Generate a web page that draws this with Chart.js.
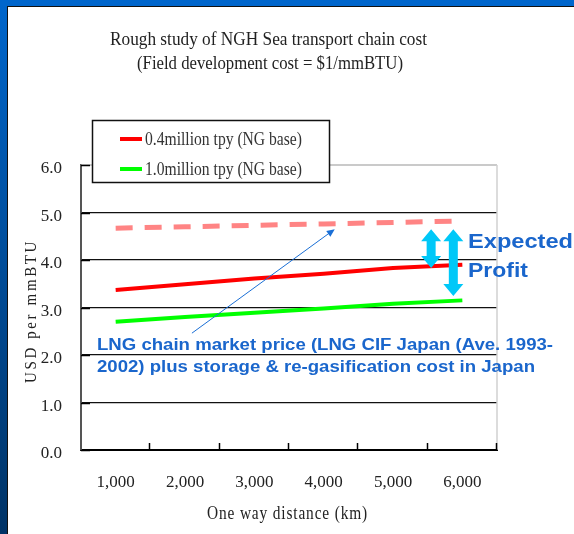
<!DOCTYPE html>
<html><head><meta charset="utf-8">
<script src="https://cdn.jsdelivr.net/npm/chart.js@4.4.1/dist/chart.umd.min.js"></script>
<style>html,body{margin:0;padding:0;background:#fff;overflow:hidden}canvas{display:block}</style>
</head><body>
<canvas id="c" width="574" height="534"></canvas>
<script>
// Transport chain cost vs one-way distance
const distances = ['1,000', '2,000', '3,000', '4,000', '5,000', '6,000'];
const cost04 = [3.37, 3.49, 3.61, 3.71, 3.83, 3.90];
const cost10 = [2.70, 2.80, 2.89, 2.98, 3.08, 3.15];
const lngMarket = [4.67, 4.70, 4.73, 4.76, 4.79, 4.82];
const yTicks = [0, 1, 2, 3, 4, 5, 6];
const seriesNames = ['0.4million tpy (NG base)', '1.0million tpy (NG base)', 'LNG chain market price'];
const titleLines = ['Rough study of NGH Sea transport chain cost', '(Field development cost = $1/mmBTU)'];
const xTitle = 'One way distance (km)';
const yTitle = 'USD per mmBTU';
const noteLines = ['LNG chain market price (LNG CIF Japan (Ave. 1993-', '2002) plus storage & re-gasification cost in Japan'];
const profitLines = ['Expected', 'Profit'];
// pointer from the note to the market price line, as [category index, value]
const pointer = { from: [1.10, 2.46], to: [3.16, 4.65] };
// double arrows spanning the profit margin
const profitArrows = [{ at: 4.55, top: 4.65, bottom: 3.83 }, { at: 4.87, top: 4.65, bottom: 3.24 }];

const SERIF = '"Liberation Serif", "DejaVu Serif", serif';
const SANS = '"Liberation Sans", Arial, sans-serif';

// draw text squeezed/stretched to a given width, left edge at x
function fitText(ctx, text, x, y, width, font, color, spacing) {
  ctx.save();
  ctx.font = font;
  ctx.fillStyle = color;
  ctx.textAlign = 'left';
  ctx.textBaseline = 'alphabetic';
  if (spacing) ctx.letterSpacing = spacing + 'px';
  const w = ctx.measureText(text).width;
  ctx.translate(x, y);
  ctx.scale(width / w, 1);
  ctx.fillText(text, 0, 0);
  ctx.restore();
}

const slideFrame = {
  id: 'slideFrame',
  beforeDraw(chart) {
    const ctx = chart.ctx, W = chart.width, H = chart.height;
    ctx.save();
    ctx.fillStyle = '#fff';
    ctx.fillRect(0, 0, W, H);
    const g = ctx.createLinearGradient(0, 0, 0, H);
    g.addColorStop(0, '#0066cc');
    g.addColorStop(1, '#003366');
    ctx.fillStyle = g;
    ctx.fillRect(0, 0, 7, H);
    ctx.fillStyle = '#0066cc';
    ctx.fillRect(0, 0, W, 6);
    ctx.fillStyle = '#111';
    ctx.fillRect(7, 6, 1, H - 6);
    ctx.fillRect(7, 6, W - 7, 1);
    ctx.restore();
  },
  beforeDatasetsDraw(chart) {
    const ctx = chart.ctx, a = chart.chartArea;
    const x = chart.scales.x, y = chart.scales.y;
    ctx.save();
    // plot frame: light top and right edges
    ctx.strokeStyle = '#b8b8b8';
    ctx.lineWidth = 1.5;
    ctx.beginPath();
    ctx.moveTo(a.left, a.top); ctx.lineTo(a.right, a.top);
    ctx.stroke();
    ctx.strokeStyle = '#d0d0d0';
    ctx.beginPath();
    ctx.moveTo(a.right, a.top); ctx.lineTo(a.right, a.bottom);
    ctx.stroke();
    // inner tick marks on both axes
    ctx.strokeStyle = '#000';
    ctx.lineWidth = 1.5;
    for (let i = 1; i <= distances.length; i++) {
      const px = Math.round(x.getPixelForValue(i - 0.5)) - 0.5;
      ctx.beginPath();
      ctx.moveTo(px, a.bottom); ctx.lineTo(px, a.bottom - 7);
      ctx.stroke();
    }
    yTicks.forEach(v => {
      const py = Math.round(y.getPixelForValue(v)) + 0.5;
      ctx.beginPath();
      ctx.moveTo(a.left, py); ctx.lineTo(a.left + 9, py);
      ctx.stroke();
    });
    ctx.restore();
  },
  afterDatasetsDraw(chart) {
    const ctx = chart.ctx;
    const x = chart.scales.x, y = chart.scales.y;
    const ds = chart.data.datasets;

    // titles
    fitText(ctx, titleLines[0], 110, 45, 317, '19px ' + SERIF, '#222');
    fitText(ctx, titleLines[1], 137, 69, 266, '19px ' + SERIF, '#222');
    fitText(ctx, xTitle, 207, 519, 161, '18px ' + SERIF, '#222', 1);
    ctx.save();
    ctx.translate(36, 311);
    ctx.rotate(-Math.PI / 2);
    fitText(ctx, yTitle, -72, 0, 144, '17px ' + SERIF, '#222', 3);
    ctx.restore();

    // legend box
    ctx.save();
    ctx.fillStyle = '#fff';
    ctx.fillRect(92, 120, 238, 63);
    ctx.strokeStyle = '#111';
    ctx.lineWidth = 1.5;
    ctx.strokeRect(92.5, 120.5, 237, 62);
    ctx.restore();
    const legendRows = ds.filter(d => d.legendRow !== undefined).sort((p, q) => p.legendRow - q.legendRow);
    legendRows.forEach((d, i) => {
      const ly = 139 + i * 30;
      ctx.save();
      ctx.strokeStyle = d.borderColor;
      ctx.lineWidth = 4;
      ctx.beginPath();
      ctx.moveTo(120, ly); ctx.lineTo(142, ly);
      ctx.stroke();
      ctx.restore();
      fitText(ctx, d.label, 145, ly + 6, 157, '18px ' + SERIF, '#333');
    });

    // pointer arrow to the market price line
    const x0 = x.getPixelForValue(pointer.from[0]), y0 = y.getPixelForValue(pointer.from[1]);
    const x1 = x.getPixelForValue(pointer.to[0]), y1 = y.getPixelForValue(pointer.to[1]);
    const ang = Math.atan2(y1 - y0, x1 - x0);
    ctx.save();
    ctx.strokeStyle = '#1a6fd6';
    ctx.fillStyle = '#1a6fd6';
    ctx.lineWidth = 1;
    ctx.beginPath();
    ctx.moveTo(x0, y0);
    ctx.lineTo(x1 - 6 * Math.cos(ang), y1 - 6 * Math.sin(ang));
    ctx.stroke();
    ctx.beginPath();
    ctx.moveTo(x1, y1);
    ctx.lineTo(x1 - 8 * Math.cos(ang) + 3.5 * Math.sin(ang), y1 - 8 * Math.sin(ang) - 3.5 * Math.cos(ang));
    ctx.lineTo(x1 - 8 * Math.cos(ang) - 3.5 * Math.sin(ang), y1 - 8 * Math.sin(ang) + 3.5 * Math.cos(ang));
    ctx.closePath();
    ctx.fill();
    ctx.restore();

    // note text
    fitText(ctx, noteLines[0], 97, 350, 456, 'bold 17px ' + SANS, '#1a66cc');
    fitText(ctx, noteLines[1], 97, 372, 438, 'bold 17px ' + SANS, '#1a66cc');

    // profit double arrows
    ctx.save();
    ctx.fillStyle = '#00c8f8';
    profitArrows.forEach(p => {
      const cx = x.getPixelForValue(p.at);
      const t = y.getPixelForValue(p.top), b = y.getPixelForValue(p.bottom);
      const hw = 10, sw = 4.5, hl = 12;
      ctx.beginPath();
      ctx.moveTo(cx, t);
      ctx.lineTo(cx + hw, t + hl);
      ctx.lineTo(cx + sw, t + hl);
      ctx.lineTo(cx + sw, b - hl);
      ctx.lineTo(cx + hw, b - hl);
      ctx.lineTo(cx, b);
      ctx.lineTo(cx - hw, b - hl);
      ctx.lineTo(cx - sw, b - hl);
      ctx.lineTo(cx - sw, t + hl);
      ctx.lineTo(cx - hw, t + hl);
      ctx.closePath();
      ctx.fill();
    });
    ctx.restore();
    fitText(ctx, profitLines[0], 468, 248, 105, 'bold 21px ' + SANS, '#1a66cc');
    fitText(ctx, profitLines[1], 468, 277, 60, 'bold 21px ' + SANS, '#1a66cc');
  }
};

new Chart(document.getElementById('c'), {
  type: 'line',
  data: {
    labels: distances,
    datasets: [
      { label: seriesNames[2], data: lngMarket, borderColor: '#ff8484', borderWidth: 5, borderDash: [17, 12], pointRadius: 0, tension: 0 },
      { label: seriesNames[1], data: cost10, borderColor: '#00ff00', borderWidth: 4, pointRadius: 0, tension: 0, legendRow: 1 },
      { label: seriesNames[0], data: cost04, borderColor: '#ff0000', borderWidth: 4, pointRadius: 0, tension: 0, legendRow: 0 }
    ]
  },
  options: {
    responsive: false,
    animation: false,
    devicePixelRatio: 1,
    layout: { padding: { top: 165, right: 77, left: 0, bottom: 0 } },
    plugins: { legend: { display: false }, title: { display: false }, tooltip: { enabled: false } },
    scales: {
      x: {
        type: 'category',
        offset: true,
        grid: { display: false },
        border: { display: true, color: '#000', width: 2 },
        ticks: { font: { family: SERIF, size: 17 }, color: '#222', padding: 14, maxRotation: 0 },
        afterFit(s) { s.height = 84; }
      },
      y: {
        min: 0, max: 6,
        afterBuildTicks(s) { s.ticks = yTicks.map(v => ({ value: v })); },
        grid: {
          drawTicks: false,
          lineWidth: 1.2,
          color: c => (c.tick && (c.tick.value === 0 || c.tick.value === 6)) ? 'rgba(0,0,0,0)' : '#111'
        },
        border: { display: true, color: '#555', width: 2 },
        ticks: { font: { family: SERIF, size: 17 }, color: '#222', padding: 19, labelOffset: 4, callback: v => Number(v).toFixed(1) },
        afterFit(s) { s.width = 81; }
      }
    }
  },
  plugins: [slideFrame]
});
</script>
</body></html>
